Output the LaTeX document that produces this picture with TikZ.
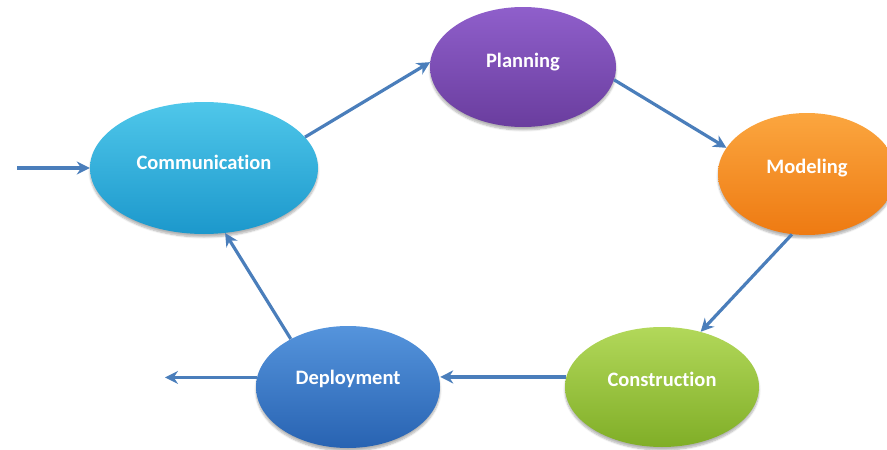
\documentclass[tikz,border=0pt]{standalone}
\usepackage{fontspec}
\setmainfont[Ligatures=NoCommon]{Carlito}
\usetikzlibrary{shapes.geometric,arrows.meta,shadows.blur}

\definecolor{flowblue}{HTML}{4A7EBB}
\definecolor{commtop}{HTML}{4FC7EA}
\definecolor{commbot}{HTML}{1C98CC}
\definecolor{plantop}{HTML}{8F5FCB}
\definecolor{planbot}{HTML}{6A3D9E}
\definecolor{modtop}{HTML}{FBA63F}
\definecolor{modbot}{HTML}{EE7A12}
\definecolor{contop}{HTML}{B2D85A}
\definecolor{conbot}{HTML}{80AE27}
\definecolor{deptop}{HTML}{5594DC}
\definecolor{depbot}{HTML}{2863B2}

\tikzset{
  phase/.style 2 args={ellipse, draw=none, top color=#1, bottom color=#2,
    blur shadow={shadow xshift=0pt, shadow yshift=-3pt, shadow opacity=30, shadow blur steps=6}},
  phasetext/.style={text=white, font=\bfseries\fontsize{20.5}{24}\selectfont},
  flow/.style={draw=flowblue, line width=3.2pt, -{Stealth[length=13pt,width=13pt]}}
}

\begin{document}
\begin{tikzpicture}[x=1pt,y=-1pt]
\useasboundingbox (0,0) rectangle (887,450);

% phases of the process
\node[phase={commtop}{commbot}, minimum width=228pt, minimum height=132pt] (comm) at (204,168) {};
\node[phase={plantop}{planbot}, minimum width=186pt, minimum height=120pt] (plan) at (523,67) {};
\node[phase={modtop}{modbot}, minimum width=178pt, minimum height=122pt] (model) at (807,174) {};
\node[phase={contop}{conbot}, minimum width=194pt, minimum height=120pt] (constr) at (662,387) {};
\node[phase={deptop}{depbot}, minimum width=184pt, minimum height=122pt] (deploy) at (348,387) {};

% labels, set slightly above each centre
\node[phasetext] (commlbl) at ([yshift=6pt]comm.center) {Communication};
\node[phasetext] (planlbl) at ([yshift=5pt]plan.center) {Planning};
\node[phasetext] (modellbl) at ([yshift=6pt]model.center) {Modeling};
\node[phasetext] (constrlbl) at ([yshift=8pt]constr.center) {Construction};
\node[phasetext] (deploylbl) at ([yshift=8pt]deploy.center) {Deployment};

% entry and exit points
\coordinate (entry) at (17,168);
\coordinate (exitx) at (165,0);

% connectors
\draw[flow] (entry) -- (comm.180);
\draw[flow] (comm.17) -- (plan.177);
\draw[flow] (plan.-8) -- (model.162);
\draw[flow] (model.-104) -- (constr.55);
\draw[flow] (constr.174) -- (deploy.east |- constr.174);
\draw[flow] (deploy.140) -- (comm.-72);
\draw[flow] (deploy.174) -- (exitx |- deploy.174);
\end{tikzpicture}
\end{document}
